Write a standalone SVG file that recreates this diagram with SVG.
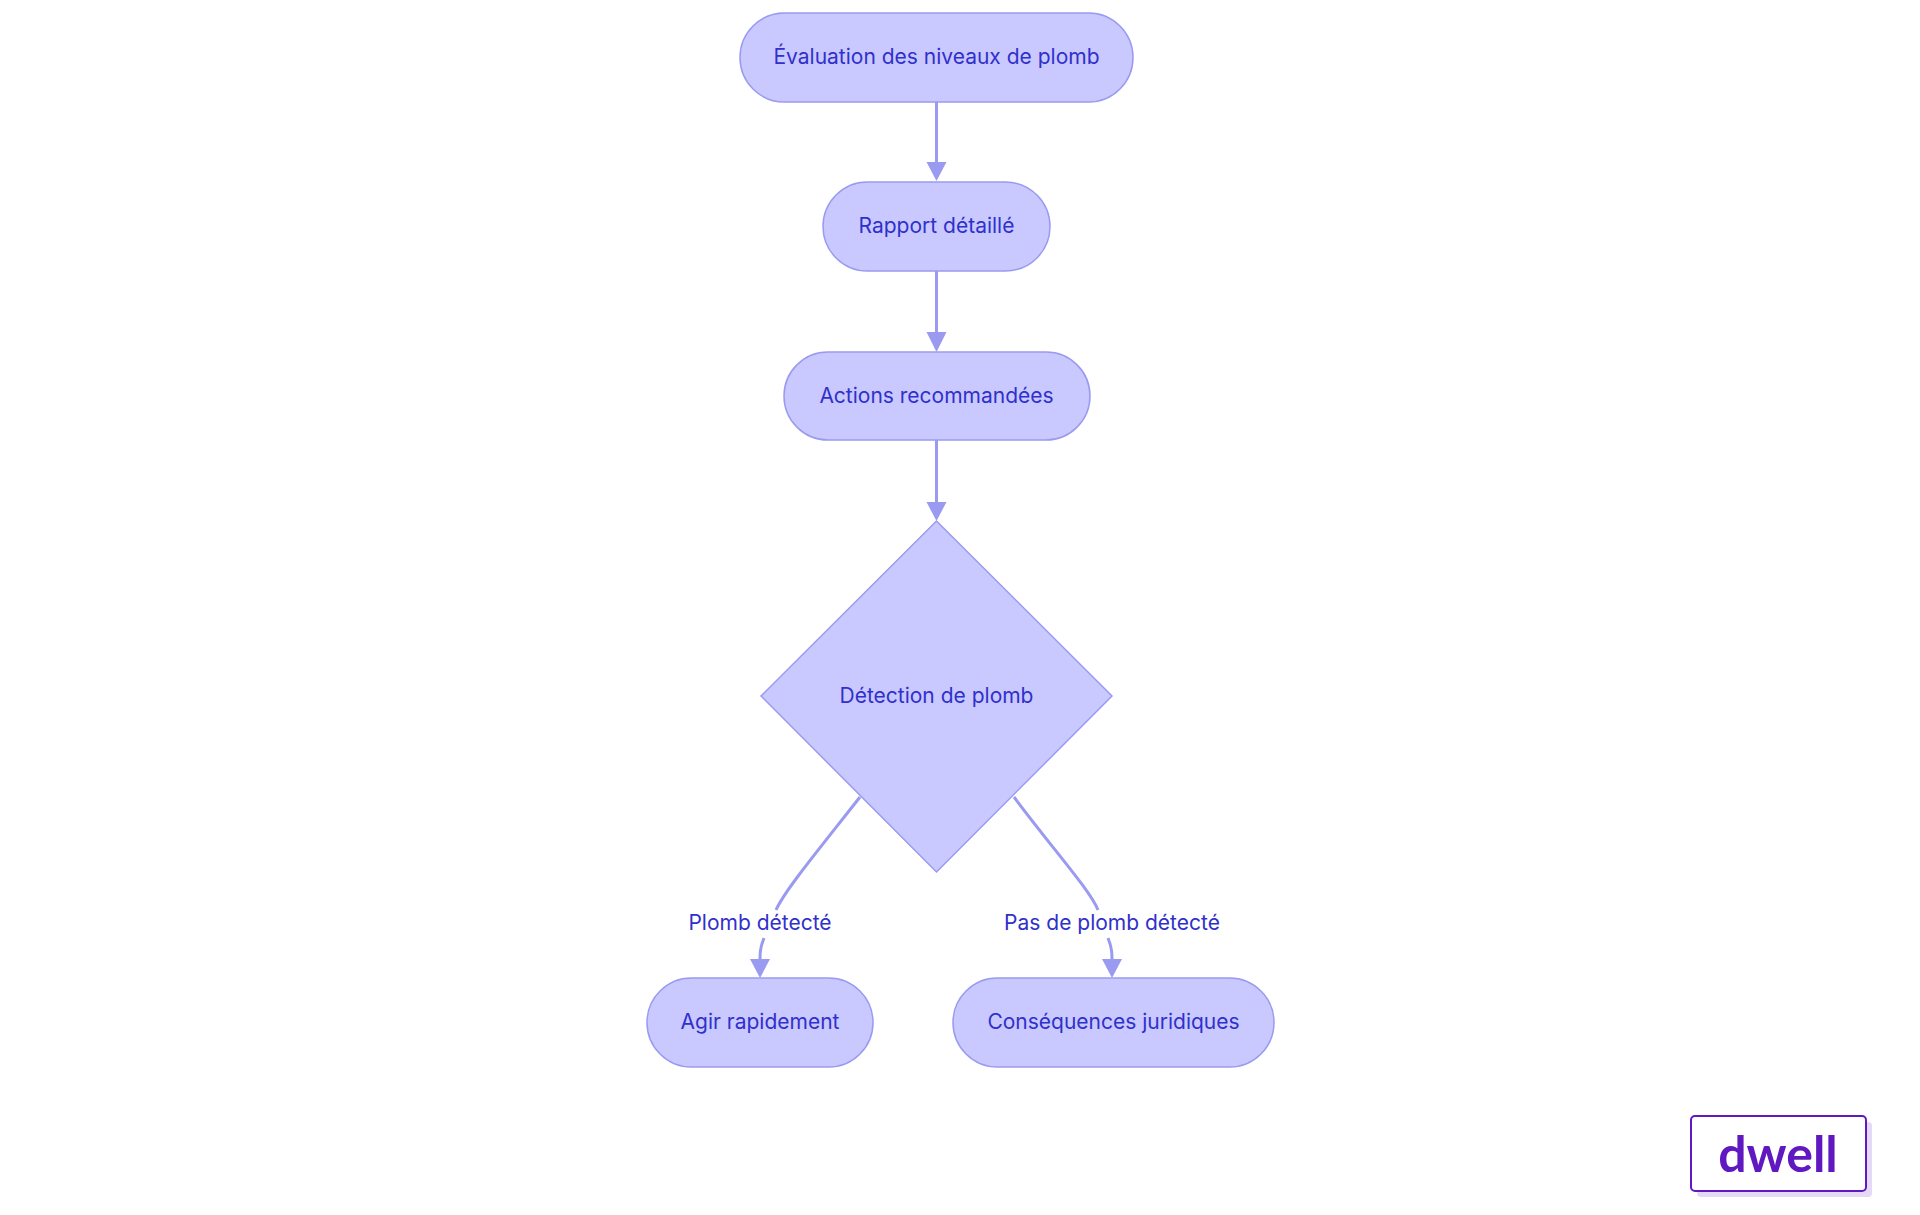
<svg xmlns="http://www.w3.org/2000/svg" width="1920" height="1215" viewBox="0 0 1920 1215">
<style>
.n{fill:#c9c9ff;stroke:#9a9af0;stroke-width:1.5}
.t{font-family:Inter,"Noto Sans",sans-serif;font-size:21px;fill:#3030cc;text-anchor:middle;dominant-baseline:central}
.e{fill:none;stroke:#9a9af0;stroke-width:3}
.h{fill:#9a9af0}
</style>
<rect width="1920" height="1215" fill="#fff"/>
<g id="connectors">
<path d="M936.5,102V166" class="e"/><path class="h" d="M926.5,162L946.5,162L936.5,181z"/>
<path d="M936.5,271V336" class="e"/><path class="h" d="M926.5,332L946.5,332L936.5,352z"/>
<path d="M936.5,440V506" class="e"/><path class="h" d="M926.5,502L946.5,502L936.5,521z"/>
<path d="M860,797C820,848 785,890 776,910" class="e"/>
<path d="M764,938C760,948 760,953 760,962" class="e"/><path class="h" d="M750,959L770,959L760,978z"/>
<path d="M1014,797C1052,848 1090,890 1098,910" class="e"/>
<path d="M1108,938C1112,948 1112,953 1112,962" class="e"/><path class="h" d="M1102,959L1122,959L1112,978z"/>
<text class="t" x="760" y="922">Plomb détecté</text>
<text class="t" x="1112" y="922">Pas de plomb détecté</text>
</g>
<g id="n1"><rect class="n" x="740" y="13" width="393" height="89" rx="44.5"/><text class="t" x="936.5" y="56">Évaluation des niveaux de plomb</text></g>
<g id="n2"><rect class="n" x="823" y="182" width="227" height="89" rx="44.5"/><text class="t" x="936.5" y="225">Rapport détaillé</text></g>
<g id="n3"><rect class="n" x="784" y="352" width="306" height="88" rx="44"/><text class="t" x="936.5" y="395">Actions recommandées</text></g>
<g id="n4"><path class="n" d="M936.5,521L1112,696L936.5,872L761,696z"/><text class="t" x="936.5" y="695">Détection de plomb</text></g>
<g id="n5"><rect class="n" x="647" y="978" width="226" height="89" rx="44.5"/><text class="t" x="760" y="1021">Agir rapidement</text></g>
<g id="n6"><rect class="n" x="953" y="978" width="321" height="89" rx="44.5"/><text class="t" x="1113.5" y="1021">Conséquences juridiques</text></g>
<g id="logo">
<rect x="1697" y="1122" width="175" height="75" rx="4" fill="#e6d9f7"/>
<rect x="1691" y="1116" width="175" height="75" rx="4" fill="#fff" stroke="#6018c0" stroke-width="2"/>
<text x="1778" y="1153" font-family="Lato,Inter,sans-serif" font-weight="bold" font-size="50" fill="#6018c0" text-anchor="middle" dominant-baseline="central">dwell</text>
</g>
</svg>
